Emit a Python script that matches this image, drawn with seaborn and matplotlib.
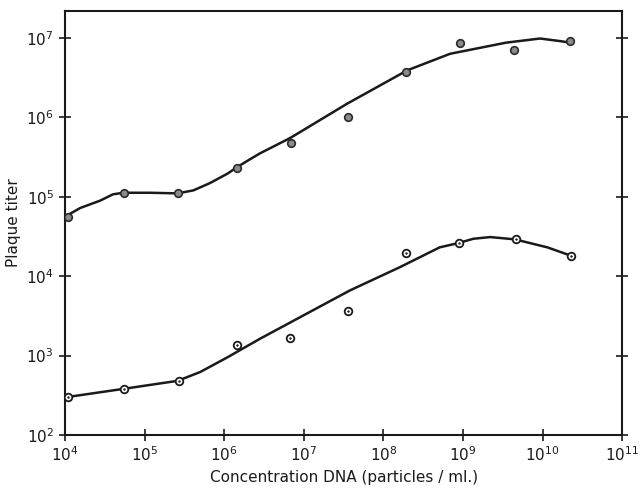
import numpy as np
import pandas as pd
import matplotlib
matplotlib.use("Agg")
import matplotlib.pyplot as plt
import matplotlib.ticker as mticker
import seaborn as sns

sns.set_style("ticks")
plt.rcParams["font.family"] = ["DejaVu Sans"]
plt.rcParams["mathtext.fontset"] = "dejavusans"

# measured points (particles/ml vs plaque titer)
upper_conc = [1.1e4, 5.5e4, 2.6e5, 1.45e6, 6.9e6, 3.6e7, 1.9e8, 9.3e8, 4.4e9, 2.2e10]
upper_titer = [5.5e4, 1.12e5, 1.1e5, 2.3e5, 4.7e5, 1.02e6, 3.7e6, 8.7e6, 7.1e6, 9.1e6]

lower_conc = [1.1e4, 5.5e4, 2.7e5, 1.45e6, 6.8e6, 3.6e7, 1.9e8, 8.9e8, 4.7e9, 2.3e10]
lower_titer = [300, 380, 480, 1350, 1650, 3600, 1.95e4, 2.6e4, 2.9e4, 1.8e4]

# hand-drawn curves
upper_curve_x = [1e4, 1.55e4, 2.75e4, 4.0e4, 5.4e4, 1.17e5, 2.6e5, 4.1e5, 6.6e5,
                 1.1e6, 1.45e6, 2.1e6, 2.8e6, 6.8e6, 3.5e7, 2.0e8, 6.9e8, 1.35e9,
                 3.5e9, 9.3e9, 1.66e10, 2.2e10]
upper_curve_y = [5.6e4, 7.2e4, 8.9e4, 1.07e5, 1.12e5, 1.12e5, 1.1e5, 1.2e5, 1.48e5,
                 1.95e5, 2.35e5, 2.95e5, 3.5e5, 5.5e5, 1.48e6, 3.9e6, 6.3e6, 7.2e6,
                 8.7e6, 9.8e6, 9.1e6, 8.7e6]

lower_curve_x = [1.07e4, 5.4e4, 2.6e5, 5.0e5, 1.1e6, 2.8e6, 3.8e7, 1.6e8, 5.1e8,
                 8.7e8, 1.35e9, 2.2e9, 4.5e9, 1.15e10, 2.3e10]
lower_curve_y = [300, 380, 480, 620, 950, 1620, 6600, 1.29e4, 2.3e4,
                 2.6e4, 2.95e4, 3.1e4, 2.9e4, 2.3e4, 1.8e4]

fig = plt.figure(figsize=(6.44, 4.92), dpi=100)
ax = fig.add_axes([0.101, 0.116, 0.865, 0.862])
ax.set_xscale("log")
ax.set_yscale("log")

sns.lineplot(x=upper_curve_x, y=upper_curve_y, color="#1a1a1a", lw=1.8, sort=False, ax=ax)
sns.lineplot(x=lower_curve_x, y=lower_curve_y, color="#1a1a1a", lw=1.8, sort=False, ax=ax)

sns.scatterplot(x=upper_conc, y=upper_titer, s=30, color="#8a8a8a",
                edgecolor="#2a2a2a", linewidth=1.2, zorder=5, ax=ax)
sns.scatterplot(x=lower_conc, y=lower_titer, s=30, color="white",
                edgecolor="#1a1a1a", linewidth=1.3, zorder=5, ax=ax)
sns.scatterplot(x=lower_conc, y=lower_titer, s=3, color="#1a1a1a",
                linewidth=0, zorder=6, ax=ax)

ax.set_xlim(1e4, 1e11)
ax.set_ylim(1e2, 10 ** 7.34)
ax.xaxis.set_major_locator(mticker.LogLocator(base=10, numticks=20))
ax.yaxis.set_major_locator(mticker.LogLocator(base=10, numticks=20))
ax.xaxis.set_minor_locator(mticker.NullLocator())
ax.yaxis.set_minor_locator(mticker.NullLocator())

ax.tick_params(axis="both", direction="inout", length=9, width=1.2,
               labelsize=11, colors="#1a1a1a")
ax.tick_params(axis="y", right=True)
ax.tick_params(axis="x", pad=3)
for sp in ax.spines.values():
    sp.set_linewidth(1.5)
    sp.set_color("#1a1a1a")
    sp.set_visible(True)

ax.set_xlabel("Concentration DNA (particles / ml.)", fontsize=11, color="#1a1a1a")
ax.set_ylabel("Plaque titer", fontsize=11, color="#1a1a1a", labelpad=4)

fig.savefig("out.png", dpi=100)
